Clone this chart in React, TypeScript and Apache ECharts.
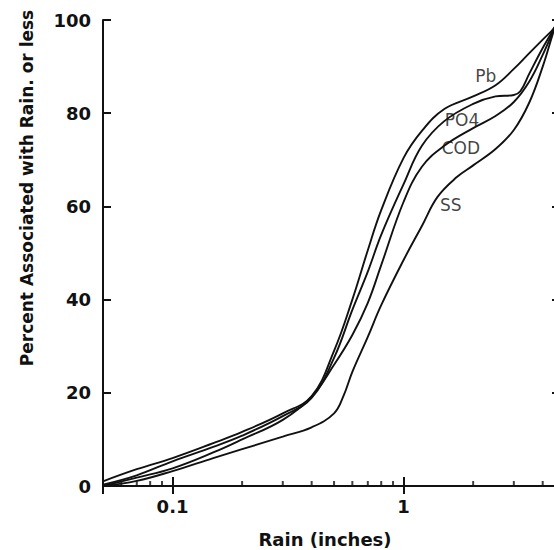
import React, { useEffect, useRef } from 'react';
import * as echarts from 'echarts';

// ---- data ----
const pbRain = [0.05, 0.07, 0.1, 0.15, 0.2, 0.3, 0.4, 0.5, 0.6, 0.7, 0.8, 1.0, 1.2, 1.5, 2.0, 2.5, 3.0, 3.5, 4.0, 4.5, 4.65];
const pbPct = [1.0, 3.6, 6.0, 9.2, 11.6, 15.6, 19.3, 29.0, 40.0, 50.6, 59.2, 70.4, 76.2, 80.9, 83.6, 86.0, 89.5, 92.9, 95.8, 98.4, 100];

const po4Rain = [0.05, 0.07, 0.1, 0.15, 0.2, 0.3, 0.4, 0.5, 0.6, 0.7, 0.8, 1.0, 1.2, 1.5, 2.0, 2.5, 3.0, 3.2, 3.5, 4.0, 4.5, 4.65];
const po4Pct = [0.3, 2.3, 5.3, 8.4, 10.8, 15.0, 18.9, 27.5, 37.8, 46.0, 53.9, 64.8, 73.0, 78.3, 82.0, 83.6, 83.9, 84.7, 88.5, 94.0, 98.4, 100];

const codRain = [0.05, 0.07, 0.1, 0.15, 0.2, 0.3, 0.4, 0.5, 0.6, 0.7, 0.8, 1.0, 1.2, 1.5, 2.0, 2.5, 3.0, 3.5, 4.0, 4.5, 4.65];
const codPct = [0, 1.8, 3.8, 7.2, 10.0, 14.2, 19.2, 26.0, 32.4, 39.3, 47.4, 61.0, 68.5, 73.0, 76.8, 79.4, 82.4, 86.8, 92.5, 98.3, 100];

const ssRain = [0.05, 0.07, 0.1, 0.15, 0.2, 0.3, 0.4, 0.5, 0.55, 0.6, 0.7, 0.8, 1.0, 1.2, 1.4, 1.7, 2.0, 2.5, 3.0, 3.5, 4.0, 4.5, 4.65];
const ssPct = [0, 1.1, 3.2, 6.0, 7.9, 10.6, 12.6, 15.6, 19.4, 24.5, 32.0, 38.8, 48.5, 55.8, 62.0, 66.3, 68.8, 72.3, 76.4, 82.3, 90.0, 98.2, 100];

const labelNames = ['Pb', 'PO4', 'COD', 'SS'];
const labelRain = [2.27, 1.79, 1.77, 1.6];
const labelPct = [88.0, 78.5, 72.5, 60.3];

const xTickValues = [0.1, 1];
const xTickLabels = ['0.1', '1'];
const xMinorTicks = [0.06, 0.07, 0.08, 0.09, 0.2, 0.3, 0.4, 0.5, 0.6, 0.7, 0.8, 0.9, 2, 3, 4];
const yTickLabels = ['0', '20', '40', '60', '80', '100'];

const xTitle = 'Rain (inches)';
const yTitle = 'Percent Associated with Rain. or less';

const FONT = 'DejaVu Sans';
const INK = '#111';

function pairs(xs: number[], ys: number[]) {
  return xs.map((x, i) => [x, ys[i]]);
}

export default function App() {
  const ref = useRef<HTMLDivElement>(null);
  useEffect(() => {
    if (!ref.current) return;
    const chart = echarts.init(ref.current, undefined, { renderer: 'svg' });
    const lineSeries = (name: string, xs: number[], ys: number[]) => ({
      name,
      type: 'line',
      data: pairs(xs, ys),
      smooth: 0.4,
      symbol: 'none',
      lineStyle: { color: INK, width: 1.9 },
      silent: true,
      clip: false,
    });
    const xLabelFmt = (v: number) => {
      for (let i = 0; i < xTickValues.length; i++) {
        if (Math.abs(v - xTickValues[i]) < 1e-9 * Math.max(1, xTickValues[i])) return xTickLabels[i];
      }
      return '';
    };
    chart.setOption({
      animation: false,
      backgroundColor: '#fff',
      grid: { left: 103, top: 20, right: 9, bottom: 64, containLabel: false },
      xAxis: [
        {
          type: 'log',
          logBase: 10,
          min: 0.05,
          max: 4.8,
          position: 'bottom',
          axisLine: { show: true, lineStyle: { color: INK, width: 2 } },
          axisTick: { show: true, inside: true, length: 9, lineStyle: { color: INK, width: 2 } },
          axisLabel: {
            show: true,
            margin: 11,
            formatter: xLabelFmt,
            color: INK,
            fontFamily: FONT,
            fontWeight: 'bold',
            fontSize: 18,
          },
          splitLine: { show: false },
          minorTick: { show: false },
        },
        {
          type: 'log',
          logBase: 10,
          min: 0.05,
          max: 4.8,
          position: 'top',
          axisLine: { show: true, lineStyle: { color: INK, width: 2 } },
          axisTick: { show: true, inside: true, length: 8, lineStyle: { color: INK, width: 2 } },
          axisLabel: { show: false },
          splitLine: { show: false },
        },
      ],
      yAxis: [
        {
          type: 'value',
          min: 0,
          max: 100,
          interval: 20,
          position: 'left',
          axisLine: { show: true, lineStyle: { color: INK, width: 2 } },
          axisTick: { show: true, inside: true, length: 8, lineStyle: { color: INK, width: 2 } },
          axisLabel: {
            margin: 12,
            color: INK,
            fontFamily: FONT,
            fontWeight: 'bold',
            fontSize: 18,
            formatter: (v: number) => yTickLabels[Math.round(v / 20)] ?? '',
          },
          splitLine: { show: false },
        },
        {
          type: 'value',
          min: 0,
          max: 100,
          interval: 20,
          position: 'right',
          axisLine: { show: true, lineStyle: { color: INK, width: 2 } },
          axisTick: { show: true, inside: true, length: 9, lineStyle: { color: INK, width: 2 } },
          axisLabel: { show: false },
          splitLine: { show: false },
        },
      ],
      series: [
        lineSeries('Pb', pbRain, pbPct),
        lineSeries('PO4', po4Rain, po4Pct),
        lineSeries('COD', codRain, codPct),
        lineSeries('SS', ssRain, ssPct),
        {
          name: 'minorTicks',
          type: 'scatter',
          data: xMinorTicks.map((v) => [v, 0]),
          symbol: 'rect',
          symbolSize: [2, 5],
          symbolOffset: [0, -2.5],
          itemStyle: { color: INK },
          silent: true,
          clip: false,
        },
        {
          name: 'labels',
          type: 'scatter',
          data: labelNames.map((n, i) => ({ name: n, value: [labelRain[i], labelPct[i]] })),
          symbolSize: 0,
          itemStyle: { color: 'rgba(0,0,0,0)' },
          label: {
            show: true,
            position: [0, 0],
            align: 'center',
            verticalAlign: 'middle',
            formatter: '{b}',
            color: INK,
            fontFamily: FONT,
            fontSize: 17,
          },
          silent: true,
          clip: false,
        },
      ],
      graphic: [
        {
          type: 'text',
          x: 325,
          y: 539,
          style: {
            text: xTitle,
            fill: INK,
            font: `bold 18px "${FONT}"`,
            textAlign: 'center',
            textVerticalAlign: 'middle',
          },
        },
        {
          type: 'text',
          x: 27,
          y: 188,
          rotation: Math.PI / 2,
          style: {
            text: yTitle,
            fill: INK,
            font: `bold 17px "${FONT}"`,
            textAlign: 'center',
            textVerticalAlign: 'middle',
          },
        },
      ],
    });
    return () => chart.dispose();
  }, []);
  return (
    <div style={{ position: 'fixed', left: 0, top: 0, width: 554, height: 550, overflow: 'hidden', background: '#fff' }}>
      <div ref={ref} style={{ width: 570, height: 550 }} />
    </div>
  );
}
